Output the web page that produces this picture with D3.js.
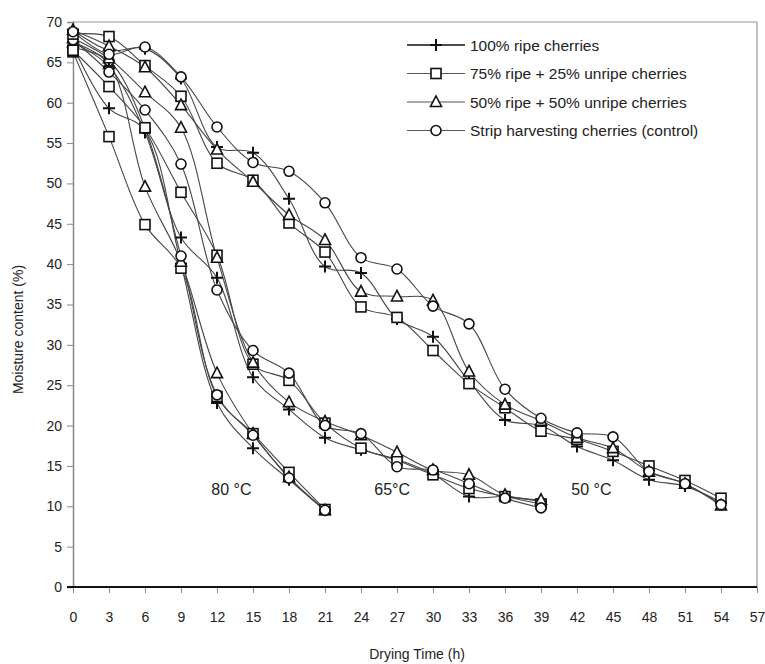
<!DOCTYPE html>
<html>
<head>
<meta charset="utf-8">
<script src="https://cdn.jsdelivr.net/npm/d3@7"></script>
<style>
  body { margin: 0; background: #fff; }
  svg { display: block; font-family: "Liberation Sans", Arial, sans-serif; }
</style>
</head>
<body>
<div id="chart"></div>
<script>
// Drying curves of coffee cherries at three temperatures (smoothed Excel-style lines)

// --- data ---
const hours80 = [0, 3, 6, 9, 12, 15, 18, 21];
const hours65 = [0, 3, 6, 9, 12, 15, 18, 21, 24, 27, 30, 33, 36, 39];
const hours50 = [0, 3, 6, 9, 12, 15, 18, 21, 24, 27, 30, 33, 36, 39, 42, 45, 48, 51, 54];

const seriesNames = [
  "100% ripe cherries",
  "75% ripe + 25% unripe cherries",
  "50% ripe + 50% unripe cherries",
  "Strip harvesting cherries (control)"
];
const seriesMarks = ["cross", "square", "triangle", "circle"];

// 80 °C
const ripe100_80 = [67.0, 59.3, 56.6, 40.0, 22.8, 17.2, 13.3, 9.5];
const ripe75_80  = [66.3, 55.8, 44.9, 39.5, 23.6, 19.0, 14.2, 9.6];
const ripe50_80  = [67.5, 64.8, 49.6, 40.3, 26.5, 19.0, 13.6, 9.5];
const strip_80   = [66.8, 65.2, 56.8, 41.0, 23.8, 18.8, 13.5, 9.5];

// 65 °C
const ripe100_65 = [67.5, 64.5, 56.3, 43.3, 38.3, 26.0, 22.0, 18.5, 17.0, 15.8, 14.0, 11.2, 11.2, 10.6];
const ripe75_65  = [66.5, 62.0, 56.9, 48.9, 41.1, 27.6, 25.6, 20.3, 17.2, 15.7, 13.9, 12.2, 11.2, 10.3];
const ripe50_65  = [68.0, 65.5, 61.3, 56.9, 40.8, 27.8, 22.9, 20.5, 18.8, 16.7, 14.5, 13.9, 11.4, 10.8];
const strip_65   = [67.8, 63.8, 59.1, 52.4, 36.8, 29.3, 26.5, 20.0, 19.0, 14.9, 14.5, 12.8, 11.0, 9.8];

// 50 °C
const ripe100_50 = [69.0, 66.5, 66.7, 63.0, 54.5, 53.8, 48.1, 39.7, 38.9, 33.2, 31.0, 25.5, 20.7, 20.0, 17.4, 15.7, 13.3, 12.5, 10.5];
const ripe75_50  = [68.5, 68.2, 64.6, 60.8, 52.5, 50.4, 45.1, 41.5, 34.7, 33.4, 29.3, 25.2, 22.2, 19.3, 18.3, 16.8, 15.0, 13.2, 11.0];
const ripe50_50  = [69.0, 67.0, 64.4, 59.7, 54.2, 50.2, 46.1, 43.0, 36.6, 36.0, 35.5, 26.7, 22.6, 20.6, 18.5, 17.2, 14.3, 12.8, 10.1];
const strip_50   = [68.8, 66.0, 66.9, 63.2, 57.0, 52.6, 51.5, 47.6, 40.8, 39.4, 34.8, 32.6, 24.5, 20.9, 19.1, 18.6, 14.3, 12.8, 10.2];

const xTicks = d3.range(0, 58, 3);
const yTicks = d3.range(0, 71, 5);

const tempLabels = [
  { text: "80 °C", x: 13.2, y: 11.4 },
  { text: "65°C", x: 26.6, y: 11.4 },
  { text: "50 °C", x: 43.2, y: 11.4 }
];

// --- build series table ---
const groups = [
  { hours: hours80, values: [ripe100_80, ripe75_80, ripe50_80, strip_80] },
  { hours: hours65, values: [ripe100_65, ripe75_65, ripe50_65, strip_65] },
  { hours: hours50, values: [ripe100_50, ripe75_50, ripe50_50, strip_50] }
];
const series = [];
groups.forEach(g => {
  g.values.forEach((vals, i) => {
    series.push({ mark: seriesMarks[i], points: g.hours.map((h, j) => ({ x: h, y: vals[j] })) });
  });
});

// --- layout ---
const width = 765, height = 664;
const margin = { top: 22, right: 8, bottom: 77, left: 73 };

const svg = d3.select("#chart").append("svg")
  .attr("width", width)
  .attr("height", height);

const x = d3.scaleLinear().domain([0, 57]).range([margin.left, width - margin.right]);
const y = d3.scaleLinear().domain([0, 70]).range([height - margin.bottom, margin.top]);

// frame (top and right)
svg.append("path")
  .attr("d", `M${x(0)},${y(70)}H${x(57)}V${y(0)}`)
  .attr("fill", "none")
  .attr("stroke", "#999")
  .attr("stroke-width", 1.2);

// y axis
const yAxis = svg.append("g")
  .attr("transform", `translate(${x(0)},0)`)
  .call(d3.axisLeft(y).tickValues(yTicks).tickSize(6).tickPadding(5));
yAxis.select(".domain").attr("stroke", "#888").attr("stroke-width", 1.5);
yAxis.selectAll(".tick line").attr("stroke", "#888");
yAxis.selectAll(".tick text")
  .attr("font-size", 14)
  .attr("font-family", "Liberation Sans, Arial, sans-serif")
  .attr("fill", "#222");

// x axis
const xAxis = svg.append("g")
  .attr("transform", `translate(0,${y(0)})`)
  .call(d3.axisBottom(x).tickValues(xTicks).tickSize(6).tickPadding(19));
xAxis.select(".domain").remove();
xAxis.selectAll(".tick line").attr("stroke", "#888");
xAxis.selectAll(".tick text")
  .attr("font-size", 14)
  .attr("font-family", "Liberation Sans, Arial, sans-serif")
  .attr("fill", "#222");
svg.append("line")
  .attr("x1", x(0) - 6).attr("x2", x(57))
  .attr("y1", y(0)).attr("y2", y(0))
  .attr("stroke", "#111")
  .attr("stroke-width", 2);

// axis titles
svg.append("text")
  .attr("x", (x(0) + x(57)) / 2 + 2)
  .attr("y", 659)
  .attr("text-anchor", "middle")
  .attr("font-size", 14)
  .attr("fill", "#222")
  .text("Drying Time (h)");

svg.append("text")
  .attr("transform", `translate(23,${(y(0) + y(70)) / 2 + 25}) rotate(-90)`)
  .attr("text-anchor", "middle")
  .attr("font-size", 14)
  .attr("fill", "#222")
  .text("Moisture content (%)");

// markers
function drawMarker(g, mark) {
  if (mark === "cross") {
    g.append("path").attr("d", "M-6,0H6M0,-6V6")
      .attr("stroke", "#111").attr("stroke-width", 2).attr("fill", "none");
  } else if (mark === "square") {
    g.append("rect").attr("x", -5).attr("y", -5).attr("width", 10).attr("height", 10)
      .attr("fill", "#fff").attr("stroke", "#111").attr("stroke-width", 1.6);
  } else if (mark === "triangle") {
    g.append("path").attr("d", "M0,-6L5.5,4.5H-5.5Z")
      .attr("fill", "#fff").attr("stroke", "#111").attr("stroke-width", 1.6);
  } else {
    g.append("circle").attr("r", 5)
      .attr("fill", "#fff").attr("stroke", "#111").attr("stroke-width", 1.6);
  }
}

const line = d3.line()
  .x(d => x(d.x))
  .y(d => y(d.y))
  .curve(d3.curveCatmullRom.alpha(0.5));

const plot = svg.append("g");
plot.selectAll("path.series")
  .data(series)
  .enter().append("path")
    .attr("class", "series")
    .attr("d", d => line(d.points))
    .attr("fill", "none")
    .attr("stroke", "#444")
    .attr("stroke-width", 1.1);

series.forEach(s => {
  plot.selectAll(null)
    .data(s.points)
    .enter().append("g")
      .attr("transform", d => `translate(${x(d.x)},${y(d.y)})`)
      .each(function() { drawMarker(d3.select(this), s.mark); });
});

// temperature labels
svg.selectAll("text.temp")
  .data(tempLabels)
  .enter().append("text")
    .attr("class", "temp")
    .attr("x", d => x(d.x))
    .attr("y", d => y(d.y))
    .attr("text-anchor", "middle")
    .attr("font-size", 16)
    .attr("fill", "#222")
    .text(d => d.text);

// legend
const legend = svg.append("g").attr("transform", "translate(407,45)");
const items = legend.selectAll("g")
  .data(seriesNames)
  .enter().append("g")
    .attr("transform", (d, i) => `translate(0,${i * 28.5})`);
items.append("line")
  .attr("x1", 0).attr("x2", 58)
  .attr("stroke", (d, i) => i === 0 ? "#111" : "#555")
  .attr("stroke-width", (d, i) => i === 0 ? 1.6 : 1.1);
items.append("g")
  .attr("transform", "translate(29,0)")
  .each(function(d, i) { drawMarker(d3.select(this), seriesMarks[i]); });
items.append("text")
  .attr("x", 63)
  .attr("y", 5.5)
  .attr("font-size", 15.5)
  .attr("fill", "#222")
  .text(d => d);
</script>
</body>
</html>
